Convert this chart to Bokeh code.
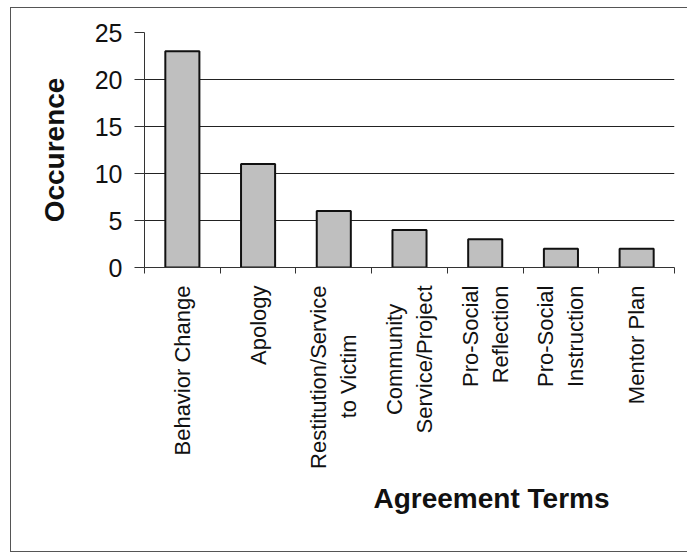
import numpy as np
from bokeh.plotting import figure
from bokeh.models import ColumnDataSource, FixedTicker, Range1d, Title
from bokeh.embed import file_html
from bokeh.resources import INLINE

NB = "\u00a0"
categories = ["Behavior Change", "Apology", "Restitution/Service\nto Victim" + NB * 8,
              "Community" + NB * 3 + "\nService/Project", "Pro-Social\nReflection",
              "Pro-Social\nInstruction", "Mentor Plan"]
occurrences = [23, 11, 6, 4, 3, 2, 2]
y_ticks = [0, 5, 10, 15, 20, 25]
grid_ticks = [5, 10, 15, 20]

n = len(categories)
xs = np.arange(n) + 0.5
src = ColumnDataSource(dict(x=xs, top=occurrences))

FONT = "Liberation Sans"

p = figure(width=677, height=545, output_backend="svg", toolbar_location=None,
           x_range=Range1d(0, n), y_range=Range1d(0, 25),
           min_border_left=133, min_border_right=14, min_border_top=24,
           min_border_bottom=286)
p.styles = {"margin-left": "10px", "margin-top": "7px",
            "border-left": "1px solid #555", "border-top": "1px solid #555",
            "border-bottom": "1px solid #555", "box-sizing": "border-box"}
p.outline_line_color = None

p.vbar(x="x", top="top", width=0.45, bottom=0, source=src,
       fill_color="#bfbfbf", line_color="#111111", line_width=2)

# grid
p.xgrid.grid_line_color = None
p.ygrid.ticker = FixedTicker(ticks=grid_ticks)
p.ygrid.grid_line_color = "#222222"
p.ygrid.grid_line_width = 1

# y axis
p.yaxis.ticker = FixedTicker(ticks=y_ticks)
p.yaxis.major_tick_out = 10
p.yaxis.major_tick_in = 0
p.yaxis.minor_tick_line_color = None
p.yaxis.axis_line_color = "#333333"
p.yaxis.major_tick_line_color = "#333333"
p.yaxis.major_label_text_font = FONT
p.yaxis.major_label_text_font_size = "25px"
p.yaxis.major_label_text_color = "#111111"
p.yaxis.major_label_standoff = 12
p.yaxis.axis_label = "Occurence"
p.yaxis.axis_label_text_font = FONT
p.yaxis.axis_label_text_font_style = "bold"
p.yaxis.axis_label_text_font_size = "28px"
p.yaxis.axis_label_text_color = "#111111"
p.yaxis.axis_label_standoff = 22

# x axis: labels at centres, ticks at boundaries
p.xaxis.ticker = FixedTicker(ticks=list(xs), minor_ticks=list(range(n + 1)))
p.xaxis.major_label_overrides = {float(x): c for x, c in zip(xs, categories)}
p.xaxis.major_tick_line_color = None
p.xaxis.major_tick_out = 0
p.xaxis.major_tick_in = 0
p.xaxis.minor_tick_line_color = "#333333"
p.xaxis.minor_tick_out = 6
p.xaxis.minor_tick_in = 0
p.xaxis.axis_line_color = "#333333"
p.xaxis.major_label_orientation = np.pi / 2
p.xaxis.major_label_text_font = FONT
p.xaxis.major_label_text_font_size = "22px"
p.xaxis.major_label_text_color = "#111111"
p.xaxis.major_label_standoff = 12

t = Title(text="Agreement Terms", align="left", offset=229, standoff=18,
          text_font=FONT, text_font_size="28px", text_font_style="bold",
          text_color="#111111")
p.add_layout(t, "below")

open("out.html", "w").write(file_html(p, INLINE))
